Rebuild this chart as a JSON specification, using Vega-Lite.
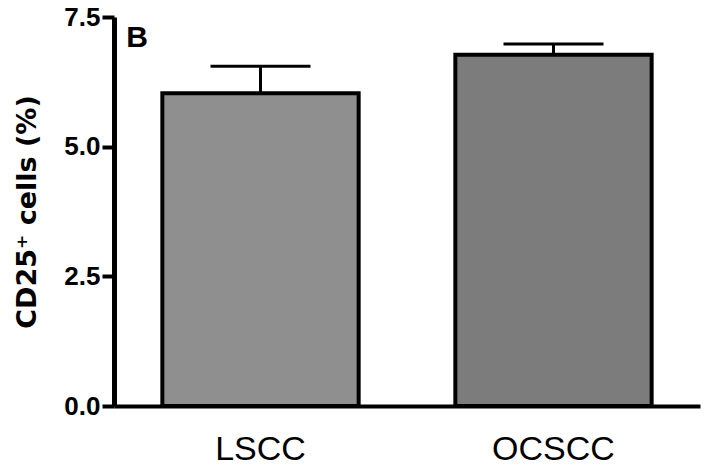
{
  "$schema": "https://vega.github.io/schema/vega-lite/v6.json",
  "autosize": {"type": "none"},
  "width": 586,
  "height": 389,
  "padding": {"left": 114, "top": 17, "right": 8, "bottom": 64},
  "background": "white",
  "config": {
    "view": {"stroke": null},
    "font": "Liberation Sans"
  },
  "data": {
    "values": [
      {"group": "LSCC", "mean": 6.03, "upper": 6.55},
      {"group": "OCSCC", "mean": 6.77, "upper": 6.98}
    ]
  },
  "encoding": {
    "x": {
      "field": "group",
      "type": "nominal",
      "sort": ["LSCC", "OCSCC"],
      "scale": {"domain": ["LSCC", "OCSCC"], "paddingInner": 0.33, "paddingOuter": 0.165},
      "axis": {
        "title": null,
        "labelAngle": 0,
        "ticks": false,
        "domainWidth": 4,
        "domainColor": "black",
        "labelFontSize": 34,
        "labelFont": "Liberation Sans",
        "labelColor": "black",
        "labelPadding": 26
      }
    }
  },
  "layer": [
    {
      "mark": {"type": "bar", "stroke": "black", "strokeWidth": 4},
      "encoding": {
        "y": {
          "field": "mean",
          "type": "quantitative",
          "scale": {"domain": [0, 7.5], "nice": false},
          "axis": {
            "values": [0, 2.5, 5, 7.5],
            "format": ".1f",
            "grid": false,
            "domainWidth": 5,
            "domainColor": "black",
            "tickColor": "black",
            "tickSize": 12,
            "tickWidth": 4,
            "labelFontSize": 26,
            "labelFontWeight": "bold",
            "labelFont": "Liberation Sans",
            "labelColor": "black",
            "labelPadding": 2,
            "title": "CD25⁺ cells (%)",
            "titleFontSize": 27,
            "titleFontWeight": "bold",
            "titleFont": "DejaVu Sans",
            "titleColor": "black",
            "titlePadding": 22
          }
        },
        "fill": {
          "field": "group",
          "type": "nominal",
          "scale": {"domain": ["LSCC", "OCSCC"], "range": ["#8f8f8f", "#7c7c7c"]},
          "legend": null
        }
      }
    },
    {
      "mark": {"type": "rule", "color": "black", "strokeWidth": 3, "opacity": 1},
      "encoding": {
        "y": {"field": "mean", "type": "quantitative"},
        "y2": {"field": "upper"}
      }
    },
    {
      "mark": {"type": "tick", "color": "black", "thickness": 3, "size": 100, "opacity": 1},
      "encoding": {
        "y": {"field": "upper", "type": "quantitative"}
      }
    },
    {
      "data": {"values": [{"label": "B"}]},
      "mark": {
        "type": "text",
        "fontSize": 30,
        "fontWeight": "bold",
        "font": "Liberation Sans",
        "color": "black",
        "align": "left",
        "baseline": "alphabetic",
        "dx": -36,
        "dy": 30
      },
      "encoding": {
        "x": {"datum": "LSCC", "bandPosition": 0},
        "y": {"datum": 7.5},
        "text": {"field": "label"}
      }
    }
  ]
}
